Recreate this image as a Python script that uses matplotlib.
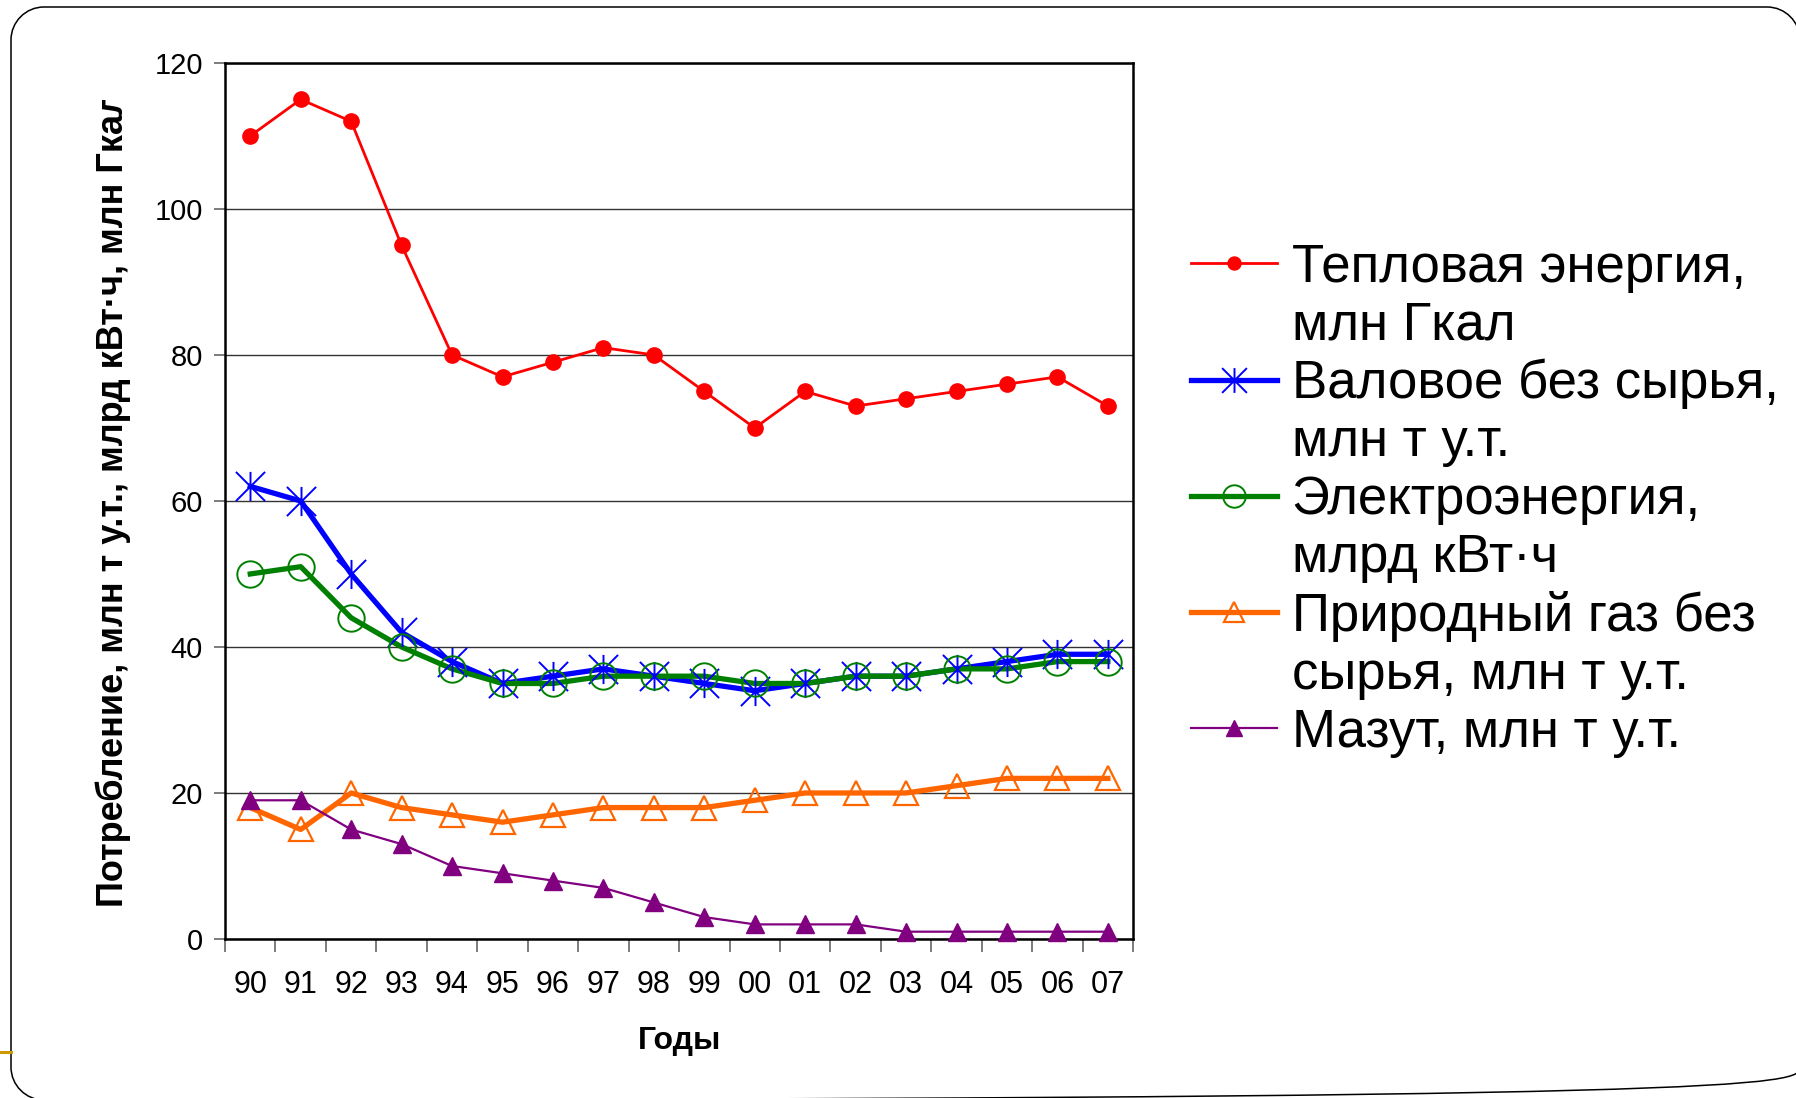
import matplotlib
matplotlib.use("Agg")
import matplotlib.pyplot as plt
from matplotlib.lines import Line2D
from matplotlib.patches import PathPatch, Rectangle
from matplotlib.path import Path

plt.rcParams["font.family"] = ["Liberation Sans", "DejaVu Sans"]

# --- data --------------------------------------------------------------------
years = ["90", "91", "92", "93", "94", "95", "96", "97", "98",
         "99", "00", "01", "02", "03", "04", "05", "06", "07"]
heat = [110, 115, 112, 95, 80, 77, 79, 81, 80, 75, 70, 75, 73, 74, 75, 76, 77, 73]
gross = [62, 60, 50, 42, 38, 35, 36, 37, 36, 35, 34, 35, 36, 36, 37, 38, 39, 39]
power = [50, 51, 44, 40, 37, 35, 35, 36, 36, 36, 35, 35, 36, 36, 37, 37, 38, 38]
gas = [18, 15, 20, 18, 17, 16, 17, 18, 18, 18, 19, 20, 20, 20, 21, 22, 22, 22]
mazut = [19, 19, 15, 13, 10, 9, 8, 7, 5, 3, 2, 2, 2, 1, 1, 1, 1, 1]

labels = [
    ["Тепловая энергия,", "млн Гкал"],
    ["Валовое без сырья,", "млн т у.т."],
    ["Электроэнергия,", "млрд кВт·ч"],
    ["Природный газ без", "сырья, млн т у.т."],
    ["Мазут, млн т у.т."],
]

# Excel-like asterisk: vertical bar plus an X
asterisk = Path([(0, -1), (0, 1), (-1, -1), (1, 1), (-1, 1), (1, -1)],
                [Path.MOVETO, Path.LINETO, Path.MOVETO, Path.LINETO,
                 Path.MOVETO, Path.LINETO])

styles = [
    dict(color="#FF0000", lw=2.0, marker="o", ms=11, mfc="#FF0000", mec="#FF0000", mew=1),
    dict(color="#0000FF", lw=3.8, marker=asterisk, ms=21, mfc="none", mec="#0000FF", mew=1.4),
    dict(color="#008000", lw=3.8, marker="o", ms=19, mfc="none", mec="#008000", mew=1.4),
    dict(color="#FF6600", lw=3.8, marker="^", ms=17, mfc="none", mec="#FF6600", mew=1.6),
    dict(color="#800080", lw=1.6, marker="^", ms=13, mfc="#800080", mec="#800080", mew=1),
]
series = [heat, gross, power, gas, mazut]

fig = plt.figure(figsize=(17.96, 10.981), dpi=100)
ax = fig.add_axes([0.1253, 0.1448, 0.5056, 0.7978])

x = list(range(len(years)))
for vals, st in zip(series, styles):
    ax.plot(x, vals, color=st["color"], lw=st["lw"], zorder=3)
for vals, st in zip(series, styles):
    ax.plot(x, vals, linestyle="none", marker=st["marker"], ms=st["ms"],
            mfc=st["mfc"], mec=st["mec"], mew=st["mew"], zorder=4,
            clip_on=False)

ax.set_xlim(-0.5, len(years) - 0.5)
ax.set_ylim(0, 120)
ax.set_yticks(range(0, 121, 20))
ax.set_xticks(x)
ax.set_xticklabels(years)
ax.set_xticks([i - 0.5 for i in range(len(years) + 1)], minor=True)
ax.tick_params(axis="x", which="major", length=0, pad=22, labelsize=22)
ax.tick_params(axis="x", which="minor", length=9, width=1.2, color="#666666",
               direction="out")
ax.tick_params(axis="y", length=8, width=1.2, color="#666666", pad=8,
               labelsize=21)
ax.yaxis.grid(True, color="#333333", lw=1.0)
ax.set_axisbelow(True)
for sp in ax.spines.values():
    sp.set_linewidth(1.8)
    sp.set_color("black")

fig.text(680 / 1796, 1 - 1041 / 1098, "Годы", ha="center", va="center",
         fontsize=23, fontweight="bold")
ylab = fig.text(113 / 1796, 1 - 907 / 1098,
                "Потребление, млн т у.т., млрд кВт·ч, млн Гкал",
                rotation=90, ha="center", va="bottom", fontsize=26,
                fontweight="bold")
# the original label box is too short and cuts the last letter
ylab.set_clip_path(Rectangle((0, 0), 1, 1 - 100 / 1098,
                             transform=fig.transFigure))

# legend: one row per text line, handle only on the first line of each entry
handles, texts = [], []
for st, lab in zip(styles, labels):
    handles.append(Line2D([], [], color=st["color"], lw=st["lw"],
                          marker=st["marker"], ms=st["ms"] * 0.85,
                          mfc=st["mfc"], mec=st["mec"], mew=st["mew"]))
    texts.append(lab[0])
    for extra in lab[1:]:
        handles.append(Line2D([], [], linestyle="none"))
        texts.append(extra)
fig.legend(handles, texts, loc="upper left",
           bbox_to_anchor=(1191 / 1796, 1 - 243 / 1098),
           frameon=False, fontsize=38, handlelength=1.63,
           handletextpad=0.28, labelspacing=0.15, borderpad=0,
           borderaxespad=0)


# rounded slide frame (in inches); its right edge lies off the canvas,
# so only the two right-hand corners are drawn
def open_frame(x0, y0, x1, y1, r):
    k = 0.5523 * r
    verts = [(x1, y1 - r),
             (x1, y1 - r + k), (x1 - r + k, y1), (x1 - r, y1),
             (x0 + r, y1),
             (x0 + r - k, y1), (x0, y1 - r + k), (x0, y1 - r),
             (x0, y0 + r),
             (x0, y0 + r - k), (x0 + r - k, y0), (x0 + r, y0),
             (x1 - r, y0),
             (x1 - r + k, y0), (x1, y0 + r - k), (x1, y0 + r)]
    codes = ([Path.MOVETO] + [Path.CURVE4] * 3 + [Path.LINETO]
             + [Path.CURVE4] * 3 + [Path.LINETO] + [Path.CURVE4] * 3
             + [Path.LINETO] + [Path.CURVE4] * 3)
    return Path(verts, codes)


fig.add_artist(PathPatch(open_frame(0.11, -0.02, 18.0, 10.91, 0.33),
                         transform=fig.dpi_scale_trans, fill=False,
                         lw=1.1, ec="black"))
fig.add_artist(Line2D([0, 0.11], [0.46, 0.46], transform=fig.dpi_scale_trans,
                      color="#CC9900", lw=2.2))

fig.savefig("out.png", dpi=100)
